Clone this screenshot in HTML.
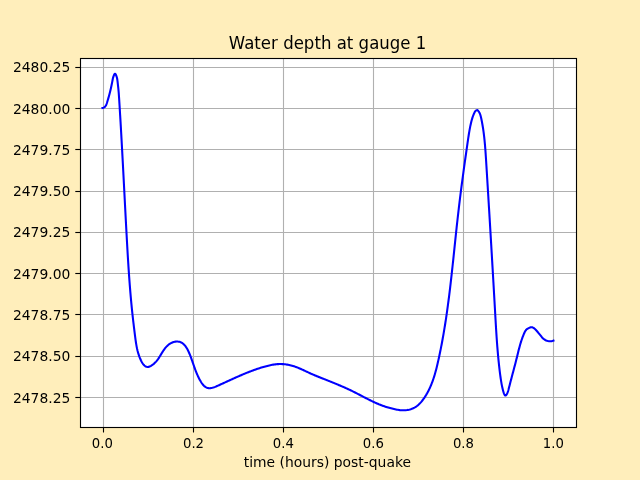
<!DOCTYPE html>
<html lang="en">
<head>
<meta charset="utf-8">
<title>Water depth at gauge 1</title>
<style>
html,body{margin:0;padding:0;background:#ffeebb;}
body{width:640px;height:480px;overflow:hidden;}
svg{display:block;will-change:transform;}
text{font-family:"DejaVu Sans","Liberation Sans",sans-serif;fill:#000;}
.tick{font-size:13.89px;}
.title{font-size:16.67px;}
</style>
</head>
<body>
<svg width="640" height="480" viewBox="0 0 640 480">
<rect x="0" y="0" width="640" height="480" fill="#ffeebb"/>
<rect x="80.5" y="58.5" width="496.0" height="369.0" fill="#ffffff"/>
<g stroke="#b0b0b0" stroke-width="1.11" fill="none">
<line x1="103.5" y1="58.5" x2="103.5" y2="427.5"/>
<line x1="193.5" y1="58.5" x2="193.5" y2="427.5"/>
<line x1="283.5" y1="58.5" x2="283.5" y2="427.5"/>
<line x1="373.5" y1="58.5" x2="373.5" y2="427.5"/>
<line x1="463.5" y1="58.5" x2="463.5" y2="427.5"/>
<line x1="553.5" y1="58.5" x2="553.5" y2="427.5"/>
<line x1="80.5" y1="67.5" x2="576.5" y2="67.5"/>
<line x1="80.5" y1="108.5" x2="576.5" y2="108.5"/>
<line x1="80.5" y1="149.5" x2="576.5" y2="149.5"/>
<line x1="80.5" y1="191.5" x2="576.5" y2="191.5"/>
<line x1="80.5" y1="232.5" x2="576.5" y2="232.5"/>
<line x1="80.5" y1="273.5" x2="576.5" y2="273.5"/>
<line x1="80.5" y1="314.5" x2="576.5" y2="314.5"/>
<line x1="80.5" y1="356.5" x2="576.5" y2="356.5"/>
<line x1="80.5" y1="397.5" x2="576.5" y2="397.5"/>
</g>
<g stroke="#000" stroke-width="1.11" fill="none">
<line x1="103.5" y1="427.5" x2="103.5" y2="432.5"/>
<line x1="193.5" y1="427.5" x2="193.5" y2="432.5"/>
<line x1="283.5" y1="427.5" x2="283.5" y2="432.5"/>
<line x1="373.5" y1="427.5" x2="373.5" y2="432.5"/>
<line x1="463.5" y1="427.5" x2="463.5" y2="432.5"/>
<line x1="553.5" y1="427.5" x2="553.5" y2="432.5"/>
<line x1="75.3" y1="67.5" x2="80.5" y2="67.5"/>
<line x1="75.3" y1="108.5" x2="80.5" y2="108.5"/>
<line x1="75.3" y1="149.5" x2="80.5" y2="149.5"/>
<line x1="75.3" y1="191.5" x2="80.5" y2="191.5"/>
<line x1="75.3" y1="232.5" x2="80.5" y2="232.5"/>
<line x1="75.3" y1="273.5" x2="80.5" y2="273.5"/>
<line x1="75.3" y1="314.5" x2="80.5" y2="314.5"/>
<line x1="75.3" y1="356.5" x2="80.5" y2="356.5"/>
<line x1="75.3" y1="397.5" x2="80.5" y2="397.5"/>
</g>
<path d="M102.46 108.02 L103.61 107.66 L104.52 107.14 L105.23 106.50 L105.77 105.75 L106.19 104.92 L106.54 104.04 L106.85 103.12 L107.14 102.19 L107.44 101.25 L107.73 100.30 L108.02 99.34 L108.30 98.37 L108.58 97.39 L108.85 96.40 L109.12 95.42 L109.38 94.42 L109.64 93.43 L109.89 92.43 L110.14 91.43 L110.38 90.43 L110.62 89.43 L110.85 88.44 L111.07 87.45 L111.29 86.46 L111.50 85.48 L111.70 84.51 L111.90 83.54 L112.09 82.58 L112.27 81.63 L112.45 80.69 L112.62 79.76 L112.80 78.83 L113.03 77.87 L113.32 76.87 L113.69 75.81 L114.17 74.70 L114.72 73.90 L115.30 73.88 L115.85 74.64 L116.34 75.80 L116.73 76.98 L117.01 78.04 L117.21 79.01 L117.35 79.93 L117.46 80.83 L117.57 81.74 L117.68 82.69 L117.79 83.65 L117.90 84.63 L118.01 85.64 L118.13 86.65 L118.24 87.67 L118.34 88.69 L118.44 89.72 L118.54 90.74 L118.63 91.75 L118.71 92.76 L118.79 93.77 L118.86 94.77 L118.93 95.77 L119.00 96.77 L119.07 97.77 L119.13 98.76 L119.20 99.76 L119.26 100.75 L119.32 101.75 L119.38 102.74 L119.45 103.74 L119.51 104.73 L119.57 105.73 L119.63 106.72 L119.69 107.72 L119.75 108.71 L119.81 109.71 L119.87 110.70 L119.93 111.70 L119.99 112.69 L120.05 113.69 L120.11 114.69 L120.17 115.68 L120.23 116.68 L120.29 117.67 L120.35 118.67 L120.41 119.67 L120.47 120.66 L120.53 121.66 L120.59 122.65 L120.64 123.65 L120.70 124.65 L120.76 125.64 L120.82 126.64 L120.87 127.64 L120.93 128.64 L120.99 129.63 L121.04 130.63 L121.10 131.63 L121.16 132.62 L121.21 133.62 L121.27 134.62 L121.33 135.62 L121.38 136.61 L121.44 137.61 L121.49 138.61 L121.55 139.61 L121.60 140.60 L121.66 141.60 L121.71 142.60 L121.77 143.60 L121.82 144.60 L121.88 145.59 L121.93 146.59 L121.99 147.59 L122.04 148.59 L122.10 149.59 L122.15 150.58 L122.21 151.58 L122.26 152.58 L122.31 153.58 L122.37 154.58 L122.42 155.58 L122.47 156.57 L122.53 157.57 L122.58 158.57 L122.63 159.57 L122.69 160.57 L122.74 161.57 L122.79 162.57 L122.85 163.56 L122.90 164.56 L122.95 165.56 L123.00 166.56 L123.06 167.56 L123.11 168.56 L123.16 169.56 L123.21 170.56 L123.27 171.56 L123.32 172.56 L123.37 173.55 L123.42 174.55 L123.48 175.55 L123.53 176.55 L123.58 177.55 L123.63 178.55 L123.69 179.55 L123.74 180.55 L123.79 181.55 L123.84 182.55 L123.89 183.55 L123.95 184.54 L124.00 185.54 L124.05 186.54 L124.10 187.54 L124.15 188.54 L124.21 189.54 L124.26 190.54 L124.31 191.54 L124.36 192.54 L124.41 193.54 L124.47 194.54 L124.52 195.54 L124.57 196.54 L124.62 197.53 L124.67 198.53 L124.73 199.53 L124.78 200.53 L124.83 201.53 L124.88 202.53 L124.93 203.53 L124.99 204.53 L125.04 205.53 L125.09 206.53 L125.14 207.53 L125.20 208.52 L125.25 209.52 L125.30 210.52 L125.35 211.52 L125.41 212.52 L125.46 213.52 L125.51 214.52 L125.56 215.52 L125.62 216.52 L125.67 217.52 L125.72 218.51 L125.78 219.51 L125.83 220.51 L125.88 221.51 L125.94 222.51 L125.99 223.51 L126.04 224.51 L126.10 225.51 L126.15 226.50 L126.20 227.50 L126.26 228.50 L126.31 229.50 L126.37 230.50 L126.42 231.50 L126.47 232.49 L126.53 233.49 L126.58 234.49 L126.64 235.49 L126.69 236.49 L126.75 237.49 L126.80 238.48 L126.86 239.48 L126.91 240.48 L126.97 241.48 L127.02 242.47 L127.08 243.47 L127.14 244.47 L127.19 245.47 L127.25 246.47 L127.31 247.46 L127.36 248.46 L127.42 249.46 L127.48 250.46 L127.54 251.45 L127.59 252.45 L127.65 253.45 L127.71 254.45 L127.77 255.44 L127.83 256.44 L127.89 257.44 L127.95 258.43 L128.01 259.43 L128.07 260.43 L128.14 261.43 L128.20 262.42 L128.26 263.42 L128.33 264.42 L128.39 265.41 L128.45 266.41 L128.52 267.41 L128.58 268.41 L128.65 269.40 L128.72 270.40 L128.79 271.40 L128.85 272.39 L128.92 273.39 L128.99 274.39 L129.06 275.39 L129.13 276.38 L129.20 277.38 L129.28 278.38 L129.35 279.37 L129.42 280.37 L129.50 281.37 L129.57 282.36 L129.65 283.36 L129.72 284.36 L129.80 285.36 L129.88 286.35 L129.96 287.35 L130.04 288.35 L130.12 289.34 L130.20 290.34 L130.28 291.34 L130.37 292.33 L130.45 293.33 L130.54 294.33 L130.62 295.33 L130.71 296.32 L130.80 297.32 L130.89 298.32 L130.98 299.32 L131.07 300.31 L131.16 301.31 L131.26 302.31 L131.35 303.31 L131.45 304.30 L131.55 305.30 L131.64 306.30 L131.74 307.30 L131.84 308.29 L131.94 309.29 L132.05 310.29 L132.15 311.29 L132.26 312.28 L132.36 313.28 L132.47 314.28 L132.58 315.27 L132.69 316.27 L132.80 317.27 L132.91 318.26 L133.02 319.26 L133.13 320.26 L133.25 321.25 L133.36 322.24 L133.48 323.24 L133.60 324.23 L133.71 325.23 L133.83 326.22 L133.95 327.21 L134.07 328.20 L134.20 329.19 L134.32 330.18 L134.44 331.17 L134.57 332.16 L134.69 333.15 L134.82 334.13 L134.94 335.12 L135.07 336.10 L135.20 337.09 L135.33 338.07 L135.46 339.05 L135.59 340.03 L135.73 341.01 L135.87 341.99 L136.02 342.97 L136.17 343.94 L136.34 344.92 L136.51 345.90 L136.69 346.87 L136.89 347.84 L137.09 348.82 L137.32 349.79 L137.55 350.76 L137.81 351.73 L138.08 352.70 L138.37 353.67 L138.68 354.64 L139.01 355.61 L139.36 356.58 L139.74 357.55 L140.13 358.52 L140.56 359.48 L141.01 360.45 L141.49 361.41 L142.00 362.34 L142.54 363.24 L143.12 364.07 L143.73 364.83 L144.38 365.50 L145.07 366.06 L145.80 366.50 L146.57 366.79 L147.38 366.92 L148.25 366.88 L149.15 366.66 L150.08 366.30 L151.02 365.82 L151.95 365.23 L152.87 364.57 L153.75 363.85 L154.59 363.11 L155.36 362.35 L156.06 361.61 L156.70 360.88 L157.29 360.14 L157.85 359.40 L158.38 358.65 L158.89 357.87 L159.40 357.06 L159.91 356.24 L160.43 355.39 L160.95 354.52 L161.48 353.65 L162.01 352.77 L162.57 351.89 L163.13 351.02 L163.72 350.15 L164.32 349.30 L164.95 348.47 L165.59 347.67 L166.27 346.89 L166.97 346.15 L167.70 345.45 L168.47 344.79 L169.27 344.18 L170.11 343.63 L170.99 343.13 L171.89 342.70 L172.83 342.33 L173.78 342.03 L174.74 341.81 L175.70 341.65 L176.66 341.58 L177.61 341.58 L178.55 341.67 L179.46 341.84 L180.33 342.11 L181.17 342.46 L181.97 342.90 L182.73 343.43 L183.46 344.03 L184.15 344.69 L184.81 345.42 L185.44 346.21 L186.03 347.04 L186.60 347.92 L187.14 348.83 L187.66 349.78 L188.15 350.75 L188.62 351.73 L189.06 352.73 L189.49 353.73 L189.90 354.73 L190.29 355.72 L190.67 356.70 L191.03 357.67 L191.38 358.62 L191.72 359.56 L192.05 360.50 L192.37 361.42 L192.68 362.33 L193.00 363.24 L193.31 364.14 L193.61 365.04 L193.92 365.94 L194.23 366.83 L194.55 367.72 L194.87 368.61 L195.19 369.50 L195.53 370.39 L195.87 371.29 L196.23 372.19 L196.60 373.09 L196.98 374.00 L197.38 374.92 L197.80 375.85 L198.24 376.78 L198.70 377.73 L199.18 378.68 L199.69 379.65 L200.22 380.61 L200.77 381.56 L201.35 382.48 L201.96 383.37 L202.59 384.21 L203.25 385.00 L203.94 385.72 L204.65 386.37 L205.39 386.94 L206.16 387.40 L206.96 387.77 L207.78 388.01 L208.64 388.15 L209.51 388.19 L210.41 388.14 L211.33 388.01 L212.26 387.80 L213.20 387.54 L214.16 387.22 L215.12 386.86 L216.09 386.47 L217.06 386.05 L218.03 385.62 L218.99 385.19 L219.95 384.75 L220.90 384.32 L221.85 383.89 L222.80 383.45 L223.74 383.02 L224.68 382.59 L225.62 382.17 L226.55 381.74 L227.47 381.31 L228.40 380.89 L229.32 380.47 L230.24 380.05 L231.16 379.63 L232.07 379.21 L232.98 378.80 L233.90 378.39 L234.80 377.98 L235.71 377.57 L236.62 377.16 L237.53 376.76 L238.43 376.36 L239.34 375.96 L240.24 375.57 L241.15 375.18 L242.05 374.79 L242.96 374.40 L243.86 374.02 L244.77 373.64 L245.67 373.27 L246.58 372.90 L247.49 372.53 L248.41 372.17 L249.32 371.81 L250.23 371.45 L251.15 371.10 L252.07 370.76 L253.00 370.41 L253.92 370.07 L254.85 369.74 L255.78 369.41 L256.72 369.09 L257.66 368.77 L258.60 368.45 L259.55 368.14 L260.51 367.84 L261.46 367.54 L262.42 367.25 L263.39 366.96 L264.36 366.68 L265.34 366.40 L266.32 366.14 L267.30 365.89 L268.29 365.64 L269.28 365.41 L270.27 365.20 L271.27 364.99 L272.26 364.81 L273.26 364.64 L274.26 364.49 L275.26 364.36 L276.26 364.25 L277.26 364.16 L278.26 364.10 L279.26 364.06 L280.26 364.04 L281.26 364.05 L282.25 364.09 L283.25 364.15 L284.24 364.23 L285.23 364.34 L286.21 364.47 L287.20 364.63 L288.18 364.81 L289.15 365.00 L290.12 365.22 L291.09 365.46 L292.05 365.72 L293.01 366.00 L293.96 366.30 L294.91 366.61 L295.85 366.94 L296.78 367.29 L297.71 367.65 L298.64 368.03 L299.56 368.42 L300.48 368.81 L301.39 369.22 L302.30 369.63 L303.21 370.05 L304.12 370.48 L305.03 370.90 L305.94 371.33 L306.84 371.76 L307.75 372.18 L308.66 372.61 L309.57 373.03 L310.48 373.44 L311.39 373.85 L312.31 374.25 L313.22 374.65 L314.14 375.04 L315.06 375.43 L315.99 375.81 L316.91 376.19 L317.83 376.57 L318.76 376.94 L319.68 377.31 L320.61 377.68 L321.54 378.05 L322.47 378.42 L323.40 378.79 L324.32 379.16 L325.25 379.53 L326.18 379.90 L327.11 380.27 L328.04 380.64 L328.97 381.01 L329.90 381.38 L330.83 381.75 L331.75 382.13 L332.68 382.50 L333.61 382.88 L334.53 383.25 L335.46 383.63 L336.38 384.01 L337.31 384.40 L338.23 384.78 L339.15 385.17 L340.07 385.56 L340.99 385.95 L341.91 386.35 L342.83 386.75 L343.75 387.15 L344.66 387.55 L345.57 387.96 L346.48 388.37 L347.39 388.79 L348.30 389.21 L349.21 389.63 L350.11 390.06 L351.01 390.49 L351.91 390.92 L352.81 391.36 L353.70 391.81 L354.60 392.26 L355.49 392.71 L356.38 393.16 L357.27 393.62 L358.16 394.08 L359.04 394.54 L359.93 395.00 L360.82 395.47 L361.70 395.93 L362.59 396.40 L363.47 396.86 L364.36 397.32 L365.25 397.78 L366.13 398.24 L367.02 398.70 L367.91 399.15 L368.81 399.60 L369.70 400.05 L370.59 400.49 L371.49 400.93 L372.39 401.37 L373.29 401.79 L374.20 402.21 L375.11 402.63 L376.02 403.04 L376.93 403.44 L377.85 403.83 L378.77 404.22 L379.70 404.59 L380.63 404.96 L381.57 405.32 L382.50 405.67 L383.45 406.01 L384.39 406.34 L385.34 406.66 L386.30 406.96 L387.25 407.26 L388.21 407.55 L389.18 407.83 L390.14 408.10 L391.11 408.36 L392.08 408.60 L393.05 408.84 L394.03 409.06 L395.01 409.28 L395.99 409.48 L396.97 409.66 L397.95 409.83 L398.94 409.98 L399.92 410.11 L400.91 410.21 L401.91 410.27 L402.90 410.31 L403.90 410.31 L404.90 410.27 L405.90 410.18 L406.90 410.06 L407.90 409.90 L408.88 409.70 L409.86 409.46 L410.82 409.17 L411.77 408.85 L412.69 408.48 L413.60 408.07 L414.48 407.61 L415.34 407.12 L416.17 406.58 L416.97 406.00 L417.75 405.38 L418.50 404.73 L419.23 404.05 L419.93 403.34 L420.62 402.60 L421.28 401.84 L421.92 401.06 L422.55 400.26 L423.16 399.45 L423.75 398.63 L424.32 397.80 L424.88 396.96 L425.42 396.11 L425.95 395.26 L426.46 394.40 L426.97 393.53 L427.45 392.66 L427.93 391.78 L428.39 390.90 L428.84 390.01 L429.27 389.12 L429.70 388.22 L430.11 387.32 L430.51 386.41 L430.90 385.49 L431.28 384.58 L431.65 383.65 L432.01 382.73 L432.36 381.80 L432.70 380.86 L433.03 379.92 L433.36 378.98 L433.67 378.04 L433.98 377.09 L434.28 376.14 L434.57 375.18 L434.85 374.23 L435.13 373.27 L435.40 372.30 L435.67 371.34 L435.93 370.37 L436.18 369.41 L436.43 368.44 L436.67 367.46 L436.91 366.49 L437.15 365.52 L437.38 364.54 L437.61 363.56 L437.83 362.58 L438.06 361.61 L438.28 360.63 L438.49 359.65 L438.71 358.67 L438.92 357.69 L439.13 356.71 L439.34 355.73 L439.55 354.75 L439.76 353.77 L439.96 352.79 L440.16 351.80 L440.36 350.82 L440.56 349.84 L440.76 348.86 L440.95 347.88 L441.14 346.89 L441.34 345.91 L441.53 344.93 L441.71 343.95 L441.90 342.96 L442.08 341.98 L442.27 340.99 L442.45 340.01 L442.63 339.03 L442.80 338.04 L442.98 337.06 L443.15 336.07 L443.33 335.09 L443.50 334.10 L443.67 333.12 L443.84 332.13 L444.00 331.14 L444.17 330.16 L444.33 329.17 L444.50 328.19 L444.66 327.20 L444.82 326.21 L444.98 325.23 L445.13 324.24 L445.29 323.25 L445.44 322.26 L445.60 321.28 L445.75 320.29 L445.90 319.30 L446.05 318.31 L446.19 317.32 L446.34 316.33 L446.49 315.35 L446.63 314.36 L446.77 313.37 L446.92 312.38 L447.06 311.39 L447.20 310.40 L447.33 309.41 L447.47 308.42 L447.61 307.43 L447.74 306.44 L447.88 305.45 L448.01 304.46 L448.14 303.47 L448.27 302.48 L448.40 301.49 L448.53 300.50 L448.66 299.50 L448.79 298.51 L448.92 297.52 L449.04 296.53 L449.17 295.54 L449.29 294.55 L449.41 293.56 L449.54 292.56 L449.66 291.57 L449.78 290.58 L449.90 289.59 L450.02 288.60 L450.14 287.60 L450.25 286.61 L450.37 285.62 L450.49 284.63 L450.60 283.63 L450.72 282.64 L450.83 281.65 L450.95 280.65 L451.06 279.66 L451.17 278.67 L451.28 277.67 L451.40 276.68 L451.51 275.69 L451.62 274.69 L451.73 273.70 L451.84 272.71 L451.95 271.71 L452.06 270.72 L452.16 269.72 L452.27 268.73 L452.38 267.74 L452.49 266.74 L452.59 265.75 L452.70 264.75 L452.81 263.76 L452.91 262.77 L453.02 261.77 L453.13 260.78 L453.23 259.78 L453.34 258.79 L453.44 257.79 L453.55 256.80 L453.65 255.81 L453.75 254.81 L453.86 253.82 L453.96 252.82 L454.07 251.83 L454.17 250.83 L454.28 249.84 L454.38 248.84 L454.48 247.85 L454.59 246.85 L454.69 245.86 L454.80 244.86 L454.90 243.87 L455.00 242.88 L455.11 241.88 L455.21 240.89 L455.32 239.89 L455.42 238.90 L455.53 237.90 L455.63 236.91 L455.74 235.91 L455.84 234.92 L455.95 233.92 L456.05 232.93 L456.16 231.93 L456.26 230.94 L456.37 229.95 L456.48 228.95 L456.59 227.96 L456.69 226.96 L456.80 225.97 L456.91 224.97 L457.02 223.98 L457.13 222.98 L457.24 221.99 L457.35 221.00 L457.46 220.00 L457.57 219.01 L457.68 218.01 L457.79 217.02 L457.90 216.03 L458.02 215.03 L458.13 214.04 L458.24 213.04 L458.36 212.05 L458.47 211.06 L458.59 210.06 L458.71 209.07 L458.82 208.08 L458.94 207.08 L459.06 206.09 L459.18 205.10 L459.30 204.10 L459.42 203.11 L459.54 202.12 L459.66 201.12 L459.78 200.13 L459.91 199.14 L460.03 198.15 L460.15 197.15 L460.28 196.16 L460.40 195.17 L460.53 194.18 L460.65 193.18 L460.78 192.19 L460.90 191.20 L461.03 190.21 L461.16 189.21 L461.29 188.22 L461.42 187.23 L461.54 186.24 L461.67 185.25 L461.80 184.25 L461.93 183.26 L462.07 182.27 L462.20 181.28 L462.33 180.29 L462.46 179.30 L462.59 178.31 L462.73 177.31 L462.86 176.32 L462.99 175.33 L463.13 174.34 L463.26 173.35 L463.40 172.36 L463.53 171.37 L463.67 170.38 L463.80 169.39 L463.94 168.40 L464.08 167.40 L464.21 166.41 L464.35 165.42 L464.49 164.43 L464.63 163.44 L464.77 162.45 L464.91 161.46 L465.04 160.47 L465.18 159.48 L465.32 158.49 L465.46 157.50 L465.60 156.51 L465.75 155.52 L465.89 154.53 L466.03 153.54 L466.17 152.55 L466.31 151.56 L466.45 150.57 L466.60 149.58 L466.74 148.60 L466.88 147.61 L467.02 146.62 L467.17 145.63 L467.31 144.64 L467.45 143.65 L467.60 142.66 L467.74 141.67 L467.89 140.68 L468.03 139.69 L468.18 138.71 L468.32 137.72 L468.47 136.73 L468.62 135.74 L468.77 134.75 L468.93 133.77 L469.09 132.78 L469.25 131.80 L469.42 130.81 L469.59 129.83 L469.77 128.84 L469.96 127.86 L470.15 126.88 L470.35 125.90 L470.56 124.93 L470.78 123.95 L471.00 122.97 L471.24 122.00 L471.49 121.03 L471.75 120.06 L472.02 119.10 L472.31 118.14 L472.62 117.18 L472.94 116.24 L473.29 115.30 L473.66 114.38 L474.05 113.47 L474.47 112.57 L474.94 111.69 L475.58 110.88 L476.48 110.22 L477.40 110.16 L478.15 110.79 L478.77 111.58 L479.29 112.43 L479.74 113.31 L480.11 114.23 L480.43 115.17 L480.70 116.13 L480.94 117.10 L481.15 118.09 L481.37 119.07 L481.57 120.05 L481.77 121.04 L481.96 122.02 L482.14 123.01 L482.32 123.99 L482.50 124.98 L482.66 125.97 L482.83 126.96 L482.98 127.95 L483.14 128.94 L483.28 129.93 L483.42 130.92 L483.56 131.91 L483.69 132.90 L483.82 133.89 L483.94 134.88 L484.06 135.87 L484.18 136.87 L484.29 137.86 L484.39 138.85 L484.50 139.85 L484.60 140.84 L484.69 141.84 L484.79 142.83 L484.88 143.83 L484.97 144.82 L485.05 145.82 L485.13 146.82 L485.21 147.81 L485.29 148.81 L485.37 149.81 L485.44 150.80 L485.51 151.80 L485.58 152.80 L485.65 153.79 L485.72 154.79 L485.78 155.79 L485.85 156.79 L485.91 157.79 L485.98 158.78 L486.04 159.78 L486.10 160.78 L486.17 161.78 L486.23 162.78 L486.29 163.77 L486.35 164.77 L486.41 165.77 L486.48 166.77 L486.54 167.77 L486.60 168.77 L486.66 169.76 L486.72 170.76 L486.79 171.76 L486.85 172.76 L486.91 173.76 L486.97 174.75 L487.03 175.75 L487.09 176.75 L487.15 177.75 L487.22 178.75 L487.28 179.74 L487.34 180.74 L487.40 181.74 L487.46 182.74 L487.52 183.74 L487.58 184.73 L487.65 185.73 L487.71 186.73 L487.77 187.73 L487.83 188.73 L487.89 189.72 L487.95 190.72 L488.01 191.72 L488.07 192.72 L488.13 193.72 L488.20 194.71 L488.26 195.71 L488.32 196.71 L488.38 197.71 L488.44 198.71 L488.50 199.70 L488.56 200.70 L488.62 201.70 L488.68 202.70 L488.74 203.70 L488.80 204.69 L488.86 205.69 L488.92 206.69 L488.98 207.69 L489.05 208.69 L489.11 209.68 L489.17 210.68 L489.23 211.68 L489.29 212.68 L489.35 213.68 L489.41 214.67 L489.47 215.67 L489.53 216.67 L489.59 217.67 L489.65 218.67 L489.71 219.66 L489.77 220.66 L489.83 221.66 L489.89 222.66 L489.95 223.66 L490.01 224.65 L490.07 225.65 L490.13 226.65 L490.19 227.65 L490.25 228.65 L490.31 229.65 L490.37 230.64 L490.43 231.64 L490.48 232.64 L490.54 233.64 L490.60 234.64 L490.66 235.63 L490.72 236.63 L490.78 237.63 L490.84 238.63 L490.90 239.63 L490.96 240.62 L491.02 241.62 L491.08 242.62 L491.14 243.62 L491.20 244.62 L491.26 245.61 L491.32 246.61 L491.37 247.61 L491.43 248.61 L491.49 249.61 L491.55 250.61 L491.61 251.60 L491.67 252.60 L491.73 253.60 L491.79 254.60 L491.85 255.60 L491.90 256.60 L491.96 257.59 L492.02 258.59 L492.08 259.59 L492.14 260.59 L492.20 261.59 L492.26 262.58 L492.31 263.58 L492.37 264.58 L492.43 265.58 L492.49 266.58 L492.55 267.58 L492.61 268.57 L492.66 269.57 L492.72 270.57 L492.78 271.57 L492.84 272.57 L492.90 273.57 L492.95 274.56 L493.01 275.56 L493.07 276.56 L493.13 277.56 L493.19 278.56 L493.24 279.56 L493.30 280.56 L493.36 281.55 L493.42 282.55 L493.48 283.55 L493.53 284.55 L493.59 285.55 L493.65 286.55 L493.71 287.55 L493.76 288.54 L493.82 289.54 L493.88 290.54 L493.94 291.54 L493.99 292.54 L494.05 293.54 L494.11 294.54 L494.17 295.53 L494.22 296.53 L494.28 297.53 L494.34 298.53 L494.39 299.53 L494.45 300.53 L494.51 301.53 L494.57 302.53 L494.62 303.52 L494.68 304.52 L494.74 305.52 L494.79 306.52 L494.85 307.52 L494.91 308.52 L494.96 309.52 L495.02 310.52 L495.08 311.52 L495.13 312.51 L495.19 313.51 L495.25 314.51 L495.30 315.51 L495.36 316.51 L495.42 317.51 L495.47 318.51 L495.53 319.51 L495.59 320.51 L495.65 321.50 L495.70 322.50 L495.76 323.50 L495.82 324.50 L495.88 325.50 L495.94 326.50 L496.00 327.50 L496.06 328.50 L496.12 329.49 L496.19 330.49 L496.25 331.49 L496.31 332.49 L496.38 333.49 L496.44 334.49 L496.51 335.48 L496.57 336.48 L496.64 337.48 L496.71 338.48 L496.78 339.47 L496.85 340.47 L496.92 341.47 L496.99 342.47 L497.07 343.46 L497.14 344.46 L497.22 345.46 L497.29 346.45 L497.37 347.45 L497.45 348.45 L497.53 349.44 L497.62 350.44 L497.70 351.43 L497.79 352.43 L497.87 353.43 L497.96 354.42 L498.05 355.42 L498.15 356.41 L498.24 357.41 L498.34 358.40 L498.43 359.39 L498.53 360.39 L498.63 361.38 L498.74 362.38 L498.84 363.37 L498.95 364.36 L499.06 365.35 L499.17 366.35 L499.28 367.34 L499.39 368.33 L499.51 369.32 L499.63 370.31 L499.75 371.30 L499.87 372.30 L500.00 373.29 L500.13 374.28 L500.26 375.27 L500.39 376.26 L500.53 377.24 L500.67 378.23 L500.81 379.22 L500.96 380.21 L501.11 381.20 L501.28 382.18 L501.44 383.17 L501.62 384.15 L501.81 385.13 L502.01 386.11 L502.22 387.09 L502.44 388.07 L502.67 389.04 L502.92 390.01 L503.18 390.98 L503.46 391.95 L503.76 392.92 L504.09 393.87 L504.56 394.79 L505.22 395.58 L505.92 395.51 L506.52 394.69 L507.02 393.80 L507.44 392.88 L507.80 391.94 L508.11 390.98 L508.39 390.02 L508.64 389.05 L508.89 388.08 L509.14 387.11 L509.38 386.14 L509.63 385.17 L509.88 384.20 L510.13 383.23 L510.38 382.27 L510.63 381.30 L510.88 380.34 L511.14 379.37 L511.39 378.41 L511.65 377.44 L511.90 376.48 L512.16 375.52 L512.42 374.55 L512.67 373.59 L512.93 372.62 L513.19 371.66 L513.44 370.70 L513.70 369.73 L513.96 368.77 L514.21 367.80 L514.47 366.84 L514.72 365.87 L514.97 364.91 L515.23 363.94 L515.48 362.97 L515.73 362.00 L515.97 361.03 L516.22 360.06 L516.46 359.09 L516.71 358.12 L516.95 357.15 L517.19 356.17 L517.43 355.20 L517.67 354.22 L517.90 353.25 L518.15 352.27 L518.39 351.30 L518.63 350.33 L518.88 349.36 L519.14 348.39 L519.39 347.42 L519.66 346.45 L519.92 345.49 L520.20 344.52 L520.48 343.56 L520.77 342.61 L521.06 341.65 L521.37 340.70 L521.68 339.76 L522.01 338.82 L522.34 337.88 L522.69 336.94 L523.05 336.01 L523.42 335.09 L523.81 334.16 L524.21 333.23 L524.64 332.31 L525.10 331.40 L525.62 330.54 L526.23 329.76 L526.96 329.10 L527.79 328.56 L528.69 328.09 L529.64 327.66 L530.60 327.32 L531.57 327.20 L532.54 327.38 L533.47 327.82 L534.29 328.41 L535.03 329.09 L535.71 329.82 L536.39 330.56 L537.05 331.30 L537.71 332.05 L538.36 332.81 L539.00 333.58 L539.64 334.35 L540.27 335.13 L540.89 335.92 L541.51 336.71 L542.15 337.48 L542.83 338.21 L543.58 338.87 L544.38 339.48 L545.23 340.00 L546.13 340.45 L547.07 340.81 L548.03 341.07 L549.02 341.24 L550.01 341.31 L551.01 341.27 L551.99 341.11 L552.97 340.83 L553.46 340.64" fill="none" stroke="#0000ff" stroke-width="2.08" stroke-linejoin="round" stroke-linecap="square"/>
<rect x="80.5" y="58.5" width="496.0" height="369.0" fill="none" stroke="#000" stroke-width="1.11"/>
<text class="tick" transform="translate(91.80,447.6) scale(0.955,1)" x="0" y="0">0.0</text>
<text class="tick" transform="translate(182.97,447.6) scale(0.955,1)" x="0" y="0">0.2</text>
<text class="tick" transform="translate(272.80,447.6) scale(0.955,1)" x="0" y="0">0.4</text>
<text class="tick" transform="translate(362.85,447.6) scale(0.955,1)" x="0" y="0">0.6</text>
<text class="tick" transform="translate(452.89,447.6) scale(0.955,1)" x="0" y="0">0.8</text>
<text class="tick" transform="translate(542.76,447.6) scale(0.955,1)" x="0" y="0">1.0</text>
<text class="tick" x="70.3" y="72.3" text-anchor="end">2480.25</text>
<text class="tick" x="70.3" y="114.3" text-anchor="end">2480.00</text>
<text class="tick" x="70.3" y="155.3" text-anchor="end">2479.75</text>
<text class="tick" x="70.3" y="196.3" text-anchor="end">2479.50</text>
<text class="tick" x="70.3" y="237.3" text-anchor="end">2479.25</text>
<text class="tick" x="70.3" y="279.3" text-anchor="end">2479.00</text>
<text class="tick" x="70.3" y="320.3" text-anchor="end">2478.75</text>
<text class="tick" x="70.3" y="361.3" text-anchor="end">2478.50</text>
<text class="tick" x="70.3" y="403.3" text-anchor="end">2478.25</text>
<text class="tick" x="327.4" y="466.5" text-anchor="middle">time (hours) post-quake</text>
<text class="title" transform="translate(327.6,48.9) scale(0.995,1.07)" x="0" y="0" text-anchor="middle">Water depth at gauge 1</text>
</svg>
</body>
</html>
